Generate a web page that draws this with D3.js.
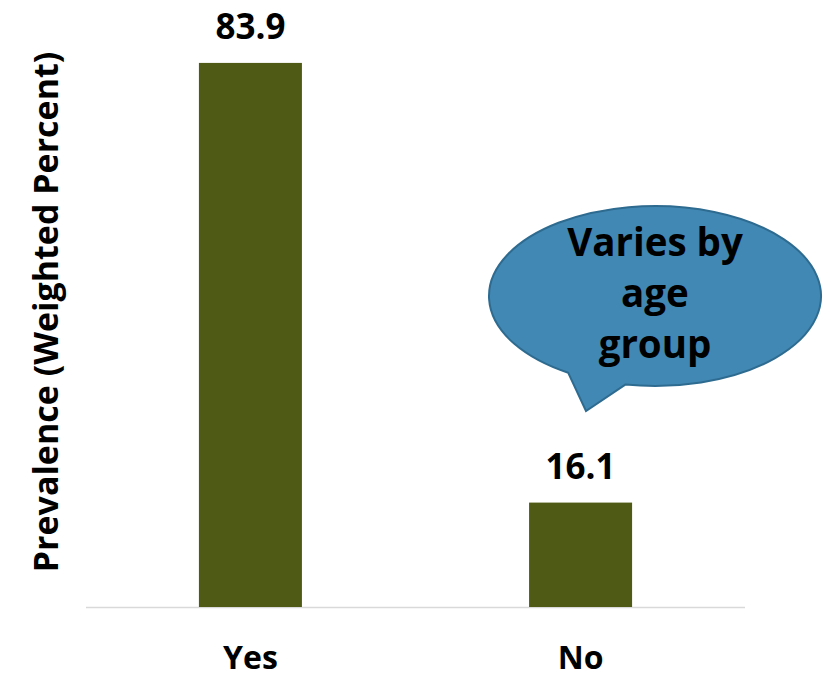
<!DOCTYPE html>
<html>
<head>
<meta charset="utf-8">
<script src="https://cdn.jsdelivr.net/npm/d3@7"></script>
<style>
  html, body { margin: 0; padding: 0; background: #fff; }
  svg { display: block; font-family: "Open Sans", Lato, sans-serif; font-weight: 700; }
</style>
</head>
<body>
<svg id="chart" width="831" height="679"></svg>
<script>
// Prevalence by response
const categories = ["Yes", "No"];
const values = [83.9, 16.1];
const yTitle = "Prevalence (Weighted Percent)";
const calloutLines = ["Varies by", "age", "group"];

const svg = d3.select("#chart");
const left = 86, right = 745, baseline = 607;

const x = d3.scaleBand()
  .domain(categories)
  .range([left, right])
  .paddingInner(0.688)
  .paddingOuter(0.342);

const y = d3.scaleLinear()
  .domain([0, 100])
  .range([baseline, baseline - 648.5]);

// baseline axis
svg.append("line")
  .attr("x1", left).attr("x2", right)
  .attr("y1", baseline + 0.5).attr("y2", baseline + 0.5)
  .attr("stroke", "#d9d9d9").attr("stroke-width", 1.5);

// bars
svg.selectAll("rect.bar")
  .data(values)
  .join("rect")
  .attr("class", "bar")
  .attr("x", (d, i) => x(categories[i]))
  .attr("width", x.bandwidth())
  .attr("y", d => y(d))
  .attr("height", d => y(0) - y(d))
  .attr("fill", "#4f5a15");

// value labels
svg.selectAll("text.val")
  .data(values)
  .join("text")
  .attr("class", "val")
  .attr("x", (d, i) => x(categories[i]) + x.bandwidth() / 2)
  .attr("y", d => y(d) - 24)
  .attr("text-anchor", "middle")
  .attr("font-size", 35)
  .attr("fill", "#000")
  .text(d => d.toFixed(1));

// category labels
svg.selectAll("text.cat")
  .data(categories)
  .join("text")
  .attr("class", "cat")
  .attr("x", d => x(d) + x.bandwidth() / 2)
  .attr("y", 669)
  .attr("text-anchor", "middle")
  .attr("font-size", 32)
  .attr("fill", "#000")
  .text(d => d);

// y axis title
svg.append("text")
  .attr("transform", "translate(58,312) rotate(-90)")
  .attr("text-anchor", "middle")
  .attr("font-size", 34)
  .attr("fill", "#000")
  .text(yTitle);

// speech bubble callout: ellipse with a pointer toward the "No" bar
const cx = 655, cy = 296, rx = 166, ry = 90;
const a1 = Math.PI * 0.5 + 0.55, a2 = Math.PI * 0.5 + 0.18;
const p1 = [cx + rx * Math.cos(a1), cy + ry * Math.sin(a1)];
const p2 = [cx + rx * Math.cos(a2), cy + ry * Math.sin(a2)];
const tip = [586, 411];
const bubblePath = `M${p2[0]},${p2[1]} L${tip[0]},${tip[1]} L${p1[0]},${p1[1]} A${rx},${ry} 0 1 1 ${p2[0]},${p2[1]} Z`;
svg.append("path")
  .attr("d", bubblePath)
  .attr("fill", "#4288b4")
  .attr("stroke", "#2e6b90")
  .attr("stroke-width", 2);

svg.append("g")
  .selectAll("text")
  .data(calloutLines)
  .join("text")
  .attr("x", cx)
  .attr("y", (d, i) => 256 + i * 51)
  .attr("text-anchor", "middle")
  .attr("font-size", 38.5)
  .attr("fill", "#000")
  .text(d => d);
</script>
</body>
</html>
